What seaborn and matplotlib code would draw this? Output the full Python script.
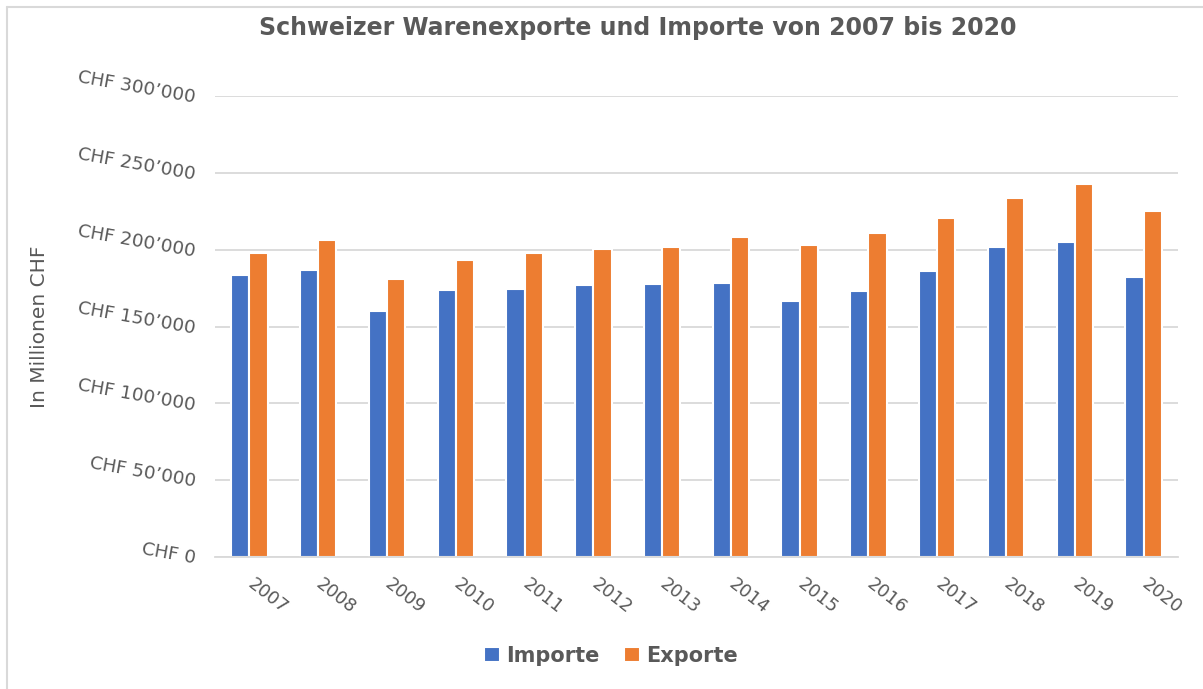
# Schweizer Warenexporte und Importe 2007-2020
import seaborn as sns
import matplotlib.pyplot as plt
import matplotlib.ticker as mticker
from matplotlib.lines import Line2D
import pandas as pd

years = [str(y) for y in range(2007, 2021)]
importe = [183.5, 186.8, 160.1, 173.7, 174.2, 176.8, 177.6, 178.3,
           166.4, 173.3, 185.9, 201.7, 205.2, 182.0]  # Mrd -> *1000 below
exporte = [197.6, 206.3, 180.7, 193.5, 198.0, 200.4, 201.7, 208.2,
           202.8, 210.6, 220.4, 233.4, 242.5, 225.0]
series = ["Importe", "Exporte"]
y_ticks = [0, 50000, 100000, 150000, 200000, 250000, 300000]

df = pd.DataFrame({
    "Jahr": years * 2,
    "Serie": ["Importe"] * len(years) + ["Exporte"] * len(years),
    "Wert": [v * 1000 for v in importe + exporte],
})

sns.set_style("white")
plt.rcParams['font.family'] = ['DejaVu Sans']
grey = "#595959"

fig = plt.figure(figsize=(12.03, 6.89), dpi=100)
ax = fig.add_axes([215 / 1203, 132 / 689, 963 / 1203, 461 / 689])

sns.barplot(data=df, x="Jahr", y="Wert", hue="Serie", hue_order=series,
            palette=["#4472C4", "#ED7D31"], width=0.53, saturation=1,
            edgecolor="white", linewidth=1.5, ax=ax)

ax.set_ylim(0, 300000)
ax.set_yticks(y_ticks)
ax.yaxis.set_major_formatter(mticker.FuncFormatter(
    lambda v, p: "CHF 0" if v == 0 else "CHF {:,.0f}".format(v).replace(",", "\u2019")))
ax.grid(axis="y", color="#D9D9D9", linewidth=1.3)
ax.set_axisbelow(True)
for s in ["top", "right", "left"]:
    ax.spines[s].set_visible(False)
ax.spines["bottom"].set_color("#D9D9D9")
ax.spines["bottom"].set_linewidth(1.3)

ax.tick_params(axis="y", length=0, pad=14, labelsize=13.2, labelcolor=grey)
ax.tick_params(axis="x", length=0, pad=18, labelsize=13, labelcolor=grey)
for lab in ax.get_yticklabels():
    lab.set_rotation(-10)
    lab.set_rotation_mode("anchor")
    lab.set_ha("right")
    lab.set_va("center_baseline")
for lab in ax.get_xticklabels():
    lab.set_rotation(-38)
    lab.set_rotation_mode("anchor")
    lab.set_ha("left")
    lab.set_va("center")

ax.set_xlabel("")
ax.set_ylabel("In Millionen CHF", fontsize=14.5, color=grey)
ax.yaxis.set_label_coords(-166 / 963, 0.5)

fig.text(638 / 1203, 1 - 28 / 689, "Schweizer Warenexporte und Importe von 2007 bis 2020",
         ha="center", va="center", fontsize=17, fontweight="bold", color=grey)

ax.legend_.remove()
handles, labels = ax.get_legend_handles_labels()
fig.legend(handles, labels, loc="center", bbox_to_anchor=(611 / 1203, 1 - 656 / 689),
           ncol=2, frameon=False, handlelength=0.75, handleheight=0.75,
           handletextpad=0.3, columnspacing=1.2,
           prop={"size": 15, "weight": "bold"}, labelcolor=grey)

# chart frame (top and left edge visible)
fig.add_artist(Line2D([7 / 1203, 1], [1 - 7 / 689, 1 - 7 / 689],
                      transform=fig.transFigure, color="#D9D9D9", linewidth=1.5))
fig.add_artist(Line2D([7 / 1203, 7 / 1203], [0, 1 - 7 / 689],
                      transform=fig.transFigure, color="#D9D9D9", linewidth=1.5))

plt.savefig("out.png", dpi=100, facecolor="white")
